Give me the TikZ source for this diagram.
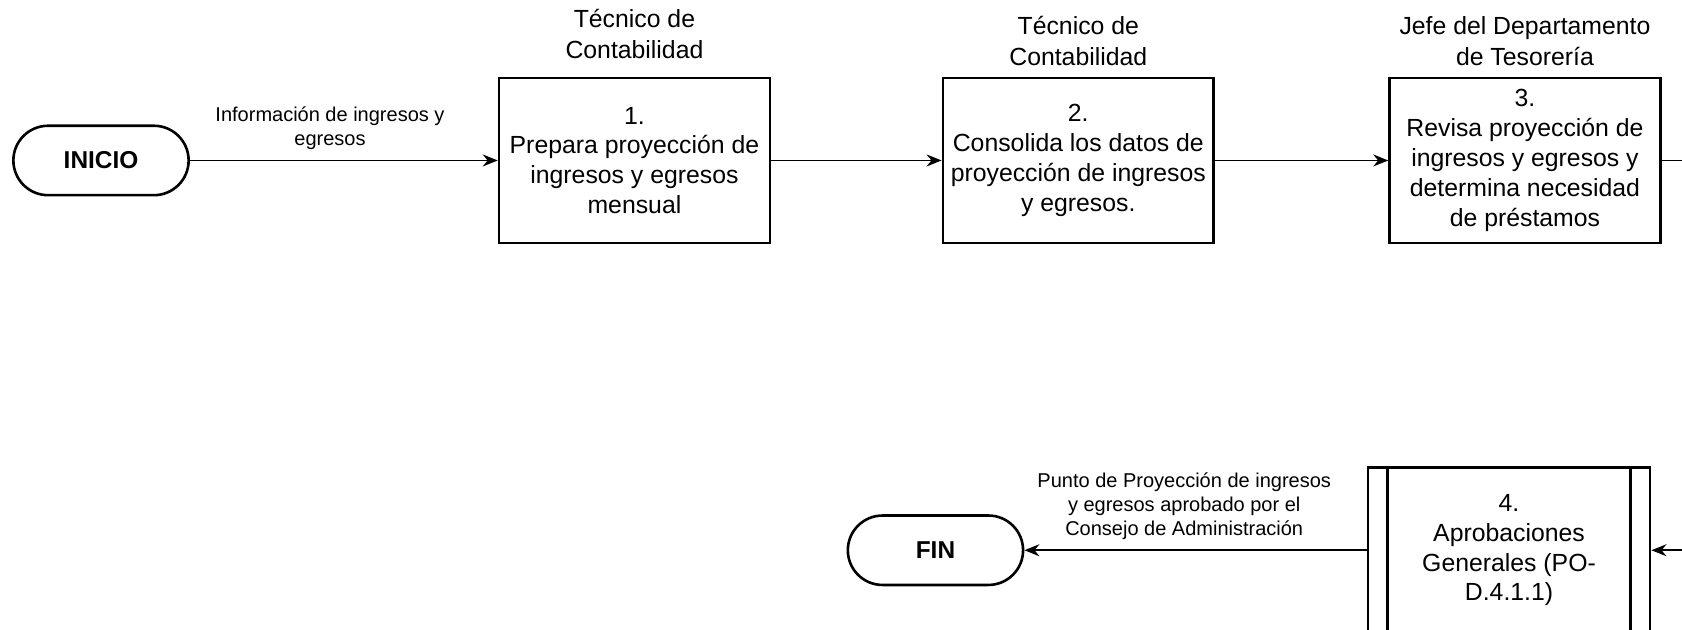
\documentclass[tikz,border=0pt]{standalone}
\usepackage{fontspec}
\setmainfont{Liberation Sans}
\usetikzlibrary{positioning,arrows.meta}

\begin{document}
\begin{tikzpicture}[
        node distance=7.8cm,
        >={Stealth[length=7.5pt,width=6pt]},
        paso/.style={draw, line width=1.3pt, align=center, minimum width=4.76cm, minimum height=2.9cm, font=\fontsize{12.4}{14.9}\selectfont},
        terminal/.style={draw, line width=1.3pt, rounded corners=0.61cm, minimum width=3.08cm, minimum height=1.22cm, font=\fontsize{12.2}{14}\selectfont\bfseries},
        rol/.style={align=center, inner sep=0pt, font=\fontsize{12.4}{15.5}\selectfont},
        etiqueta/.style={align=center, inner sep=5pt, font=\fontsize{10}{12}\selectfont}
    ]
        \useasboundingbox (0,0) rectangle (29.56,-11.055);

        \node[paso] (paso1) at (11.15,-2.82) {1.\\Prepara proyección de\\ingresos y egresos\\mensual};
        \node[paso, right of=paso1] (paso2) {2.\\Consolida los datos de\\proyección de ingresos\\y egresos.};
        \node[paso, right of=paso2, xshift=0.05cm] (paso3) {3.\\Revisa proyección de\\ingresos y egresos y\\determina necesidad\\de préstamos};
        \node[terminal, left of=paso1, xshift=-1.575cm] (inicio) {INICIO};
        \node[paso, minimum width=4.96cm, below of=paso3, yshift=0.95cm, xshift=-0.28cm] (paso4) {4.\\Aprobaciones\\Generales (PO-\\D.4.1.1)};
        \node[terminal, left of=paso4, xshift=-2.28cm] (fin) {FIN};

        \node[rol, above=0.31cm of paso1] (rol1) {Técnico de\\Contabilidad};
        \node[rol, above=0.19cm of paso2] (rol2) {Técnico de\\Contabilidad};
        \node[rol, above=0.19cm of paso3] (rol3) {Jefe del Departamento\\de Tesorería};

        % barras del subproceso
        \draw[line width=1.3pt] ([xshift=0.37cm]paso4.north west) -- ([xshift=0.37cm]paso4.south west);
        \draw[line width=1.3pt] ([xshift=-0.37cm]paso4.north east) -- ([xshift=-0.37cm]paso4.south east);

        \draw[->, thick] (inicio) -- node[etiqueta, above, pos=0.455] {Información de ingresos y\\egresos} (paso1);
        \draw[->, thick] (paso1) -- (paso2);
        \draw[->, thick] (paso2) -- (paso3);
        \draw[->, thick] (paso3.east) -- ++(0.5,0) |- (paso4.east);
        \draw[->, thick] (paso4) -- node[etiqueta, above, pos=0.533] {Punto de Proyección de ingresos\\y egresos aprobado por el\\Consejo de Administración} (fin);
    \end{tikzpicture}
\end{document}
